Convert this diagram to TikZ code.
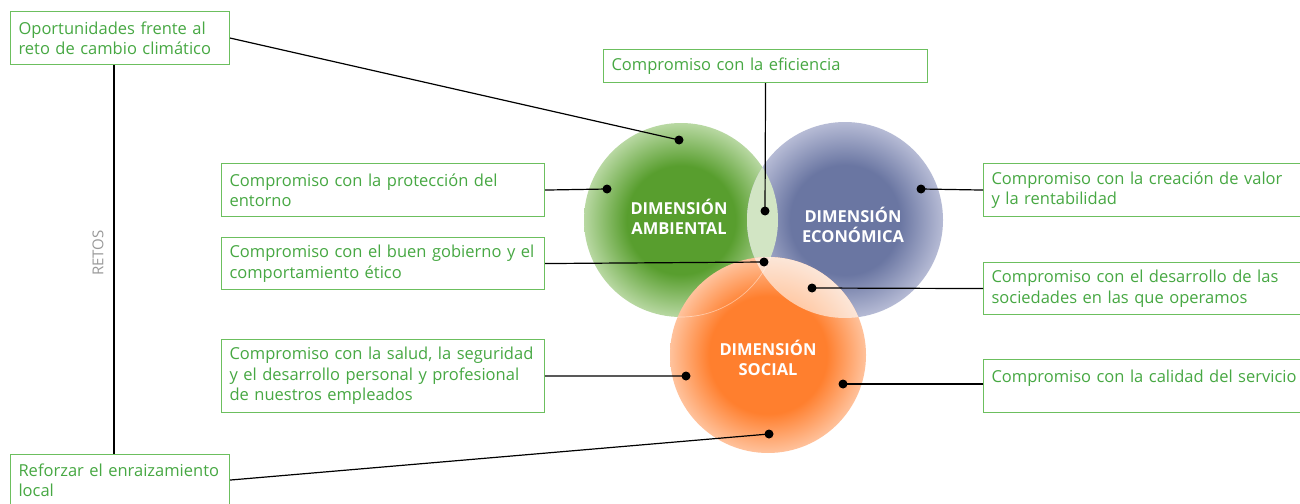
\documentclass[tikz,border=0pt]{standalone}
\usepackage{fontspec}
\setmainfont{Open Sans}
\definecolor{txtgreen}{HTML}{47A843}
\definecolor{boxgreen}{HTML}{6CBF5E}
\definecolor{gA}{HTML}{589E2E}
\definecolor{gB}{HTML}{B8D8A2}
\definecolor{bA}{HTML}{6A76A2}
\definecolor{bB}{HTML}{B6BBD5}
\definecolor{oA}{HTML}{FF7F2E}
\definecolor{oB}{HTML}{FFC29C}
\definecolor{gbover}{HTML}{D2E5C4}
\definecolor{obA}{HTML}{FFCBA8}
\definecolor{obB}{HTML}{FCE6D8}
\pgfdeclareradialshading{greenshade}{\pgfpoint{0bp}{0bp}}{color(0bp)=(gA); color(14bp)=(gA); color(25bp)=(gB); color(50bp)=(gB)}
\pgfdeclareradialshading{blueshade}{\pgfpoint{0bp}{0bp}}{color(0bp)=(bA); color(14bp)=(bA); color(25bp)=(bB); color(50bp)=(bB)}
\pgfdeclareradialshading{orangeshade}{\pgfpoint{0bp}{0bp}}{color(0bp)=(oA); color(15bp)=(oA); color(25bp)=(oB); color(50bp)=(oB)}
\pgfdeclareradialshading{peachshade}{\pgfpoint{0bp}{0bp}}{color(0bp)=(obA); color(15bp)=(obA); color(25bp)=(obB); color(50bp)=(obB)}
\tikzset{
  box/.style={draw=boxgreen, line width=1.1pt, text=txtgreen, align=left, anchor=north west,
    inner xsep=8pt, inner ysep=0pt, font=\fontsize{16.5}{20.5}\selectfont},
  dot/.style={circle, fill=black, inner sep=0pt, minimum size=9pt},
  conn/.style={line width=1.2pt, black},
  dimlabel/.style={text=white, align=center, font=\bfseries\fontsize{16.5}{20}\selectfont},
}
\begin{document}
\begin{tikzpicture}[x=1pt,y=-1pt]
\useasboundingbox (0,0) rectangle (1300,503);
\fill[white] (0,0) rectangle (1300,503);
% circles
\shade[shading=greenshade] (681,220) circle (97pt);
\shade[shading=blueshade] (845,220) circle (98pt);
\begin{scope}
  \clip (681,220) circle (97pt);
  \fill[gbover] (845,220) circle (98pt);
\end{scope}
\shade[shading=orangeshade] (768,355) circle (98pt);
\begin{scope}
  \clip (845,220) circle (98pt);
  \shade[shading=peachshade] (768,355) circle (98pt);
\end{scope}
\begin{scope}
  \clip (768,355) circle (98pt);
  \draw[white, opacity=0.45, line width=0.7pt] (681,220) circle (97pt);
\end{scope}
\node[dimlabel] (amb) at (679,217) {DIMENSIÓN\\AMBIENTAL};
\node[dimlabel] (eco) at (853,225) {DIMENSIÓN\\ECONÓMICA};
\node[dimlabel] (soc) at (768,358) {DIMENSIÓN\\SOCIAL};
% boxes
\node[box, minimum width=219pt, minimum height=53pt, text width=203pt] (oport) at (10,11) {Oportunidades frente al\\reto de cambio climático};
\node[box, minimum width=219pt, minimum height=51pt, text width=203pt] (reforz) at (10,454) {Reforzar el enraizamiento\\local};
\node[box, minimum width=324pt, minimum height=33pt, text width=308pt] (efic) at (603,49) {Compromiso con la eficiencia};
\node[box, minimum width=323pt, minimum height=53pt, text width=307pt] (prot) at (221,163) {Compromiso con la protección del\\entorno};
\node[box, minimum width=323pt, minimum height=52pt, text width=307pt] (gob) at (221,237) {Compromiso con el buen gobierno y el\\comportamiento ético};
\node[box, minimum width=323pt, minimum height=73pt, text width=307pt] (salud) at (221,339) {Compromiso con la salud, la seguridad\\y el desarrollo personal y profesional\\de nuestros empleados};
\node[box, minimum width=330pt, minimum height=53pt, text width=314pt] (crea) at (983,163) {Compromiso con la creación de valor\\y la rentabilidad};
\node[box, minimum width=330pt, minimum height=52pt, text width=314pt] (desa) at (983,262) {Compromiso con el desarrollo de las\\sociedades en las que operamos};
\node[box, minimum width=330pt, minimum height=53pt, text width=314pt] (cali) at (983,359) {Compromiso con la calidad del servicio\\\mbox{}};
% retos
\node[rotate=90, text=gray!80, font=\fontsize{15}{17}\selectfont] (retos) at (98,253) {RETOS};
\coordinate (vx) at (114,0);
\draw[conn] (oport.south -| vx) -- (reforz.north -| vx);
% dots
\node[dot] (d1) at (679,140) {};
\node[dot] (d2) at (765,211) {};
\node[dot] (d3) at (607,189) {};
\node[dot] (d4) at (764,262) {};
\node[dot] (d5) at (921,189) {};
\node[dot] (d6) at (812,288) {};
\node[dot] (d7) at (686,376) {};
\node[dot] (d8) at (843,384) {};
\node[dot] (d9) at (769,434) {};
% connectors
\draw[conn] (oport.east) -- (d1.center);
\draw[conn] (efic.south) -- (d2.center);
\draw[conn] (prot.east) -- (d3.center);
\draw[conn] (gob.east) -- (d4.center);
\draw[conn] (crea.west) -- (d5.center);
\draw[conn] (desa.west) -- (d6.center);
\draw[conn] (salud.east) -- (d7.center);
\draw[conn] (cali.west |- d8) -- (d8.center);
\draw[conn] (reforz.east) -- (d9.center);
\end{tikzpicture}
\end{document}
